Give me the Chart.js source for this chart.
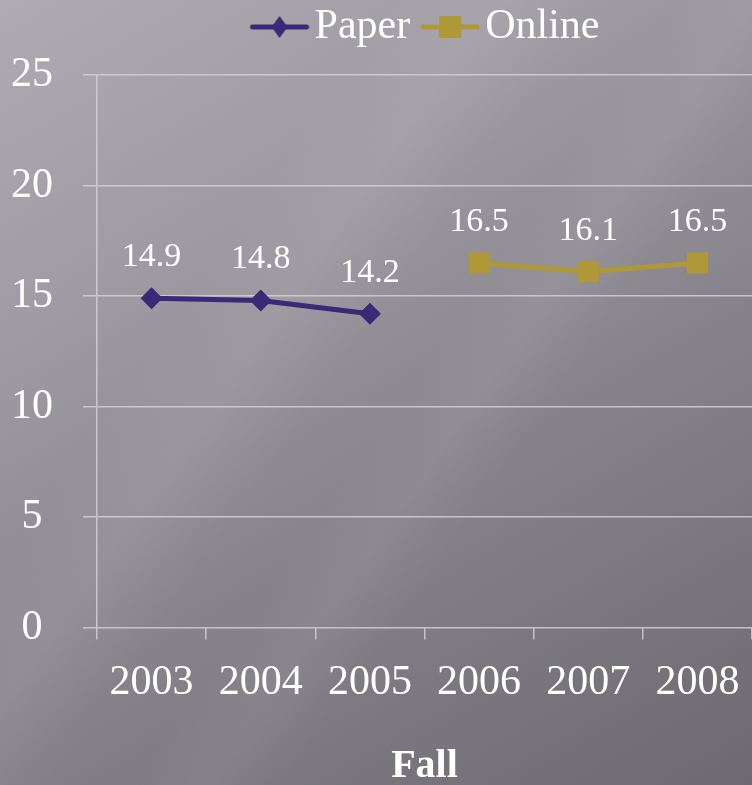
<!DOCTYPE html>
<html>
<head>
<meta charset="utf-8">
<script src="https://cdn.jsdelivr.net/npm/chart.js@4"></script>
<style>
  html, body { margin: 0; padding: 0; }
  body {
    width: 752px; height: 785px; overflow: hidden;
    background:
      linear-gradient(125deg, rgba(255,255,255,0) 30%, rgba(255,255,255,0.07) 38%, rgba(255,255,255,0) 46%),
      linear-gradient(125deg, rgba(255,255,255,0) 52%, rgba(255,255,255,0.06) 58%, rgba(255,255,255,0) 64%),
      linear-gradient(150deg, #aeabb3 0%, #9d9aa2 30%, #86838b 60%, #6c6a70 100%);
  }
  #wrap { position: relative; width: 752px; height: 785px; }
</style>
</head>
<body>
<div id="wrap"><canvas id="chart"></canvas></div>
<script>
// Chart data
const years = ["2003", "2004", "2005", "2006", "2007", "2008"];
const paperValues = [14.9, 14.8, 14.2, null, null, null];
const onlineValues = [null, null, null, 16.5, 16.1, 16.5];
const yTicks = [0, 5, 10, 15, 20, 25];

const PAPER = "#382a77";
const ONLINE = "#ae9837";
const GRID = "rgba(214,212,219,0.8)";
const FONT = '"Liberation Serif", "DejaVu Serif", serif';

// legend icon: line with marker, drawn off-centre in a wider canvas
function legendIcon(color, shape) {
  const c = document.createElement("canvas");
  c.width = 120;
  c.height = 24;
  const g = c.getContext("2d");
  const o = 38;
  g.strokeStyle = color;
  g.fillStyle = color;
  g.lineWidth = 5;
  g.lineCap = "round";
  g.beginPath();
  g.moveTo(o + 3, 12);
  g.lineTo(o + 57, 12);
  g.stroke();
  if (shape === "diamond") {
    g.beginPath();
    g.moveTo(o + 30, 1);
    g.lineTo(o + 38, 12);
    g.lineTo(o + 30, 23);
    g.lineTo(o + 22, 12);
    g.closePath();
    g.fill();
  } else {
    g.fillRect(o + 19, 1, 22, 22);
  }
  return c;
}

// extra room under the legend
const legendGap = {
  id: "legendGap",
  beforeInit(chart) {
    const fit = chart.legend.fit;
    chart.legend.fit = function () {
      fit.bind(chart.legend)();
      this.height += 17;
    };
  }
};

// value labels above each point
const pointLabels = {
  id: "pointLabels",
  afterDatasetsDraw(chart) {
    const ctx = chart.ctx;
    ctx.save();
    ctx.font = "34px " + FONT;
    ctx.fillStyle = "#ffffff";
    ctx.textAlign = "center";
    ctx.textBaseline = "alphabetic";
    chart.data.datasets.forEach((ds, i) => {
      chart.getDatasetMeta(i).data.forEach((pt, j) => {
        const v = ds.data[j];
        if (v == null) return;
        ctx.fillText(v.toFixed(1), pt.x, pt.y - 32);
      });
    });
    ctx.restore();
  }
};

new Chart(document.getElementById("chart"), {
  type: "line",
  data: {
    labels: years,
    datasets: [
      {
        label: "Paper",
        data: paperValues,
        borderColor: PAPER,
        backgroundColor: PAPER,
        borderWidth: 5,
        pointStyle: "rectRot",
        pointRadius: 11,
        pointBorderWidth: 0,
        tension: 0,
        spanGaps: false
      },
      {
        label: "Online",
        data: onlineValues,
        borderColor: ONLINE,
        backgroundColor: ONLINE,
        borderWidth: 5,
        pointStyle: "rect",
        pointRadius: 15,
        pointBorderWidth: 0,
        tension: 0,
        spanGaps: false
      }
    ]
  },
  options: {
    responsive: true,
    maintainAspectRatio: false,
    animation: false,
    layout: { autoPadding: false, padding: { top: -4, right: 0, bottom: 0, left: 0 } },
    plugins: {
      tooltip: { enabled: false },
      legend: {
        position: "top",
        fullSize: false,
        labels: {
          usePointStyle: true,
          pointStyleWidth: 44,
          boxHeight: 24,
          padding: 10,
          color: "#ffffff",
          font: { family: FONT, size: 42, lineHeight: 1 },
          generateLabels: (chart) => [
            { text: "Paper", pointStyle: legendIcon(PAPER, "diamond"), fillStyle: PAPER, strokeStyle: PAPER, lineWidth: 0, datasetIndex: 0, fontColor: "#ffffff" },
            { text: "Online", pointStyle: legendIcon(ONLINE, "square"), fillStyle: ONLINE, strokeStyle: ONLINE, lineWidth: 0, datasetIndex: 1, fontColor: "#ffffff" }
          ]
        }
      }
    },
    scales: {
      x: {
        offset: true,
        afterFit: (scale) => {
          scale.paddingLeft = 0;
          scale.paddingRight = 0;
        },
        grid: {
          display: true,
          offset: true,
          drawOnChartArea: false,
          drawTicks: true,
          tickLength: 12,
          color: GRID,
          lineWidth: 1.5
        },
        border: { display: false },
        ticks: {
          color: "#ffffff",
          font: { family: FONT, size: 42 },
          padding: 18,
          maxRotation: 0
        },
        title: {
          display: true,
          text: "Fall",
          color: "#ffffff",
          font: { family: FONT, size: 40, weight: "bold", lineHeight: 0.9 },
          padding: { top: 23, bottom: 0 }
        }
      },
      y: {
        min: 0,
        max: 25,
        afterBuildTicks: (scale) => {
          scale.ticks = yTicks.map((v) => ({ value: v }));
        },
        afterFit: (scale) => {
          scale.width = 97;
        },
        grid: {
          color: GRID,
          lineWidth: 1.5,
          tickLength: 14
        },
        border: { display: true, color: GRID, width: 1.5 },
        ticks: {
          color: "#ffffff",
          font: { family: FONT, size: 42 },
          crossAlign: "center",
          padding: 30
        }
      }
    }
  },
  plugins: [legendGap, pointLabels]
});
</script>
</body>
</html>
